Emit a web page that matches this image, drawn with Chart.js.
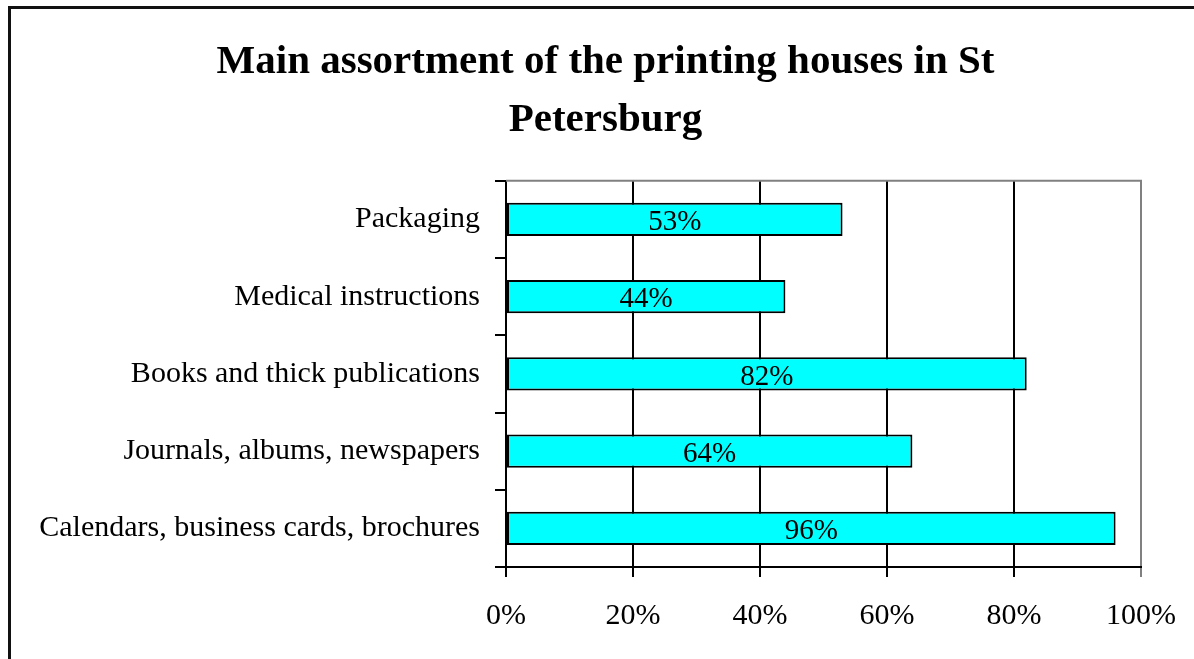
<!DOCTYPE html>
<html>
<head>
<meta charset="utf-8">
<title>Main assortment of the printing houses in St Petersburg</title>
<script src="https://cdn.jsdelivr.net/npm/chart.js@4.4.1/dist/chart.umd.min.js"></script>
<style>
    html, body { margin: 0; padding: 0; background: #ffffff; overflow: hidden; }
    #wrap { position: relative; width: 1194px; height: 659px; }
    #chart { position: absolute; left: 0; top: 0; }
    #frame {
        position: absolute; left: 8px; top: 6px; width: 1300px; height: 800px;
        border-left: 3px solid #111111; border-top: 3px solid #111111;
        pointer-events: none;
    }
</style>
</head>
<body>
<div id="wrap">
    <canvas id="chart" width="1194" height="659"></canvas>
    <div id="frame"></div>
</div>
<script>
    "use strict";

    // Data
    var categories = [
        "Packaging",
        "Medical instructions",
        "Books and thick publications",
        "Journals, albums, newspapers",
        "Calendars, business cards, brochures"
    ];
    var shares = [53, 44, 82, 64, 96];
    var xTicks = [0, 20, 40, 60, 80, 100];
    var titleLines = ["Main assortment of the printing houses in St", "Petersburg"];

    Chart.defaults.font.family = "'Liberation Serif', 'Times New Roman', serif";
    Chart.defaults.color = "#000000";

    // Bar value labels, drawn in the middle of each bar
    var barLabels = {
        id: "barLabels",
        afterDatasetsDraw: function (chart) {
            var ctx = chart.ctx;
            var meta = chart.getDatasetMeta(0);
            ctx.save();
            ctx.font = "29px 'Liberation Serif', 'Times New Roman', serif";
            ctx.fillStyle = "#000000";
            ctx.textAlign = "center";
            ctx.textBaseline = "middle";
            meta.data.forEach(function (bar, i) {
                var p = bar.getProps(["x", "y", "base"], true);
                ctx.fillText(shares[i] + "%", (p.x + p.base) / 2, p.y + 3);
            });
            ctx.restore();
        }
    };

    // Grey top edge of the plot area
    var plotFrame = {
        id: "plotFrame",
        afterDraw: function (chart) {
            var a = chart.chartArea;
            var ctx = chart.ctx;
            ctx.save();
            ctx.strokeStyle = "#808080";
            ctx.lineWidth = 2;
            ctx.beginPath();
            ctx.moveTo(a.left, a.top);
            ctx.lineTo(a.right + 1, a.top);
            ctx.stroke();
            ctx.restore();
        }
    };

    var ctx = document.getElementById("chart").getContext("2d");
    var myChart = new Chart(ctx, {
        type: "bar",
        data: {
            labels: categories,
            datasets: [{
                label: "Share",
                data: shares,
                backgroundColor: "#00FFFF",
                borderColor: "#000000",
                borderWidth: 2,
                borderSkipped: false,
                barPercentage: 0.43,
                categoryPercentage: 1.0
            }]
        },
        options: {
            indexAxis: "y",
            responsive: false,
            animation: false,
            devicePixelRatio: 1,
            layout: {
                padding: { left: 17, right: 0, top: 0, bottom: 0 }
            },
            plugins: {
                legend: { display: false },
                tooltip: { enabled: false },
                title: {
                    display: true,
                    text: titleLines,
                    color: "#000000",
                    font: { size: 41, weight: "bold", lineHeight: 1.4 },
                    padding: { top: 34, bottom: 32 }
                }
            },
            scales: {
                x: {
                    min: 0,
                    max: 100,
                    afterFit: function (scale) {
                        scale.height = 92;
                        scale.paddingRight = 53;
                        scale.paddingLeft = 0;
                    },
                    afterBuildTicks: function (scale) {
                        scale.ticks = xTicks.map(function (v) { return { value: v }; });
                    },
                    ticks: {
                        padding: 21,
                        font: { size: 30 },
                        color: "#000000",
                        maxRotation: 0,
                        callback: function (value) { return value + "%"; }
                    },
                    grid: {
                        drawOnChartArea: true,
                        drawTicks: true,
                        tickLength: 10,
                        lineWidth: 2,
                        color: function (c) {
                            return c.tick && c.tick.value === 100 ? "#808080" : "#000000";
                        }
                    },
                    border: { display: true, color: "#000000", width: 2 }
                },
                y: {
                    afterFit: function (scale) {
                        scale.width = 489;
                    },
                    ticks: {
                        padding: 15,
                        font: { size: 30 },
                        color: "#000000"
                    },
                    grid: {
                        offset: true,
                        drawOnChartArea: false,
                        drawTicks: true,
                        tickLength: 11,
                        lineWidth: 2,
                        color: "#000000"
                    },
                    border: { display: true, color: "#000000", width: 2 }
                }
            }
        },
        plugins: [barLabels, plotFrame]
    });
</script>
</body>
</html>
